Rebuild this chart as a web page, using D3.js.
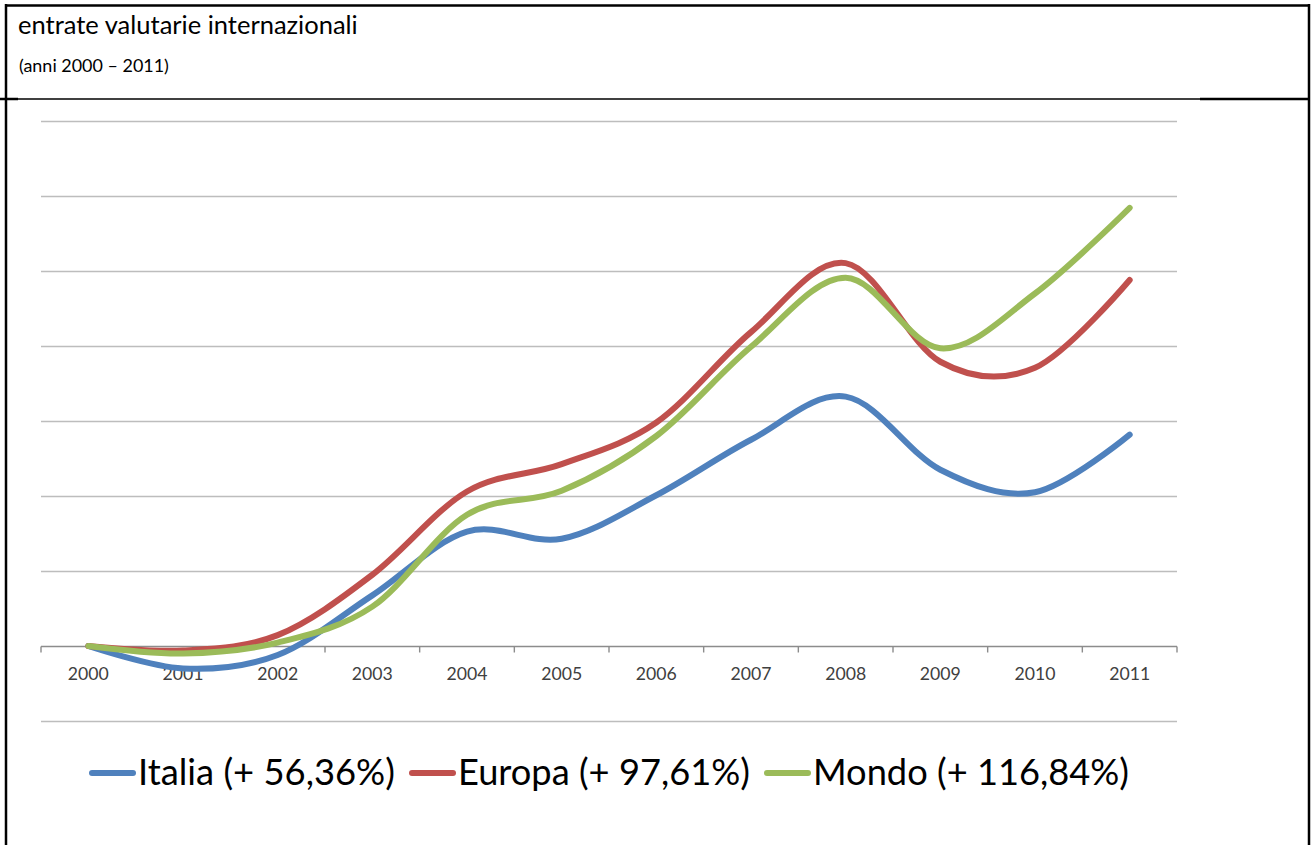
<!DOCTYPE html>
<html>
<head>
<meta charset="utf-8">
<script src="https://cdn.jsdelivr.net/npm/d3@7"></script>
<style>
  html, body { margin: 0; padding: 0; background: #fff; }
  svg { display: block; }
  text { font-family: Lato, "Open Sans", "Liberation Sans", sans-serif; }
</style>
</head>
<body>
<svg id="chart" width="1311" height="845"></svg>
<script>
// ---- data ----
const years = ["2000","2001","2002","2003","2004","2005","2006","2007","2008","2009","2010","2011"];
const italia = [0, -6, -2.4, 13.5, 30.5, 28.6, 40.2, 55, 66.5, 47, 41, 56.36];
const europa = [0, -1.2, 2.9, 19, 41.2, 48.5, 59.6, 83.7, 102.1, 75.8, 74.2, 97.61];
const mondo  = [0, -2.0, 0.9, 10.5, 35, 41.4, 56, 79.8, 98.2, 79.4, 94, 116.84];
const seriesNames = ["Italia (+ 56,36%)", "Europa (+ 97,61%)", "Mondo (+ 116,84%)"];
const seriesColors = ["#4F81BD", "#C0504D", "#9BBB59"];
const yTicks = [-20, 0, 20, 40, 60, 80, 100, 120, 140];
const titleText = "entrate valutarie internazionali";
const subtitleText = "(anni 2000 \u2013 2011)";

const series = [italia, europa, mondo].map((vals, i) => ({
  name: seriesNames[i], color: seriesColors[i],
  values: vals.map((v, j) => ({ year: years[j], value: v }))
}));

// ---- layout ----
const svg = d3.select("#chart");
const plot = { left: 41, right: 1177, top: 121, bottom: 721 };

// text fitting helper: scale font so that text spans a target width
function fitFont(sel, target) {
  sel.style("font-size", "100px");
  const len = sel.node().getComputedTextLength();
  const fs = 100 * target / len;
  sel.style("font-size", fs + "px");
  return fs;
}

// ---- frame ----
const frame = svg.append("g").attr("stroke", "#000").attr("fill", "none");
frame.append("line").attr("x1", 5).attr("x2", 1310).attr("y1", 5.5).attr("y2", 5.5).attr("stroke-width", 2.5);
frame.append("line").attr("x1", 6).attr("x2", 6).attr("y1", 4).attr("y2", 845).attr("stroke-width", 2.5);
frame.append("line").attr("x1", 1309).attr("x2", 1309).attr("y1", 4).attr("y2", 845).attr("stroke-width", 2.5);
frame.append("line").attr("x1", 0).attr("x2", 1200).attr("y1", 99).attr("y2", 99).attr("stroke-width", 1.5);
frame.append("line").attr("x1", 0).attr("x2", 18).attr("y1", 99).attr("y2", 99).attr("stroke-width", 2.5);
frame.append("line").attr("x1", 1200).attr("x2", 1309).attr("y1", 99).attr("y2", 99).attr("stroke-width", 2.5);

// ---- titles ----
const t1 = svg.append("text").attr("x", 18).attr("y", 34).attr("fill", "#000").text(titleText);
fitFont(t1, 340);
const t2 = svg.append("text").attr("x", 19).attr("y", 72).attr("fill", "#000").text(subtitleText);
fitFont(t2, 150);

// ---- scales ----
const x = d3.scaleBand().domain(years).range([plot.left, plot.right]).padding(0);
const y = d3.scaleLinear().domain([-20, 140]).range([plot.bottom, plot.top]);

// ---- gridlines ----
svg.append("g")
  .selectAll("line")
  .data(yTicks.filter(d => d !== 0))
  .join("line")
  .attr("x1", plot.left).attr("x2", plot.right)
  .attr("y1", d => Math.round(y(d)) + 0.5).attr("y2", d => Math.round(y(d)) + 0.5)
  .attr("stroke", "#bdbdbd").attr("stroke-width", 1.6);

// ---- x axis ----
const axisY = Math.round(y(0)) + 0.5;
const xAxis = svg.append("g").attr("transform", `translate(0,${axisY})`);
xAxis.append("line").attr("x1", plot.left).attr("x2", plot.right).attr("stroke", "#8c8c8c").attr("stroke-width", 1.4);
const boundaries = years.map(d => x(d)).concat([x(years[years.length - 1]) + x.bandwidth()]);
xAxis.selectAll("line.tick").data(boundaries).join("line").attr("class", "tick")
  .attr("x1", d => d).attr("x2", d => d).attr("y1", 0).attr("y2", 6)
  .attr("stroke", "#8c8c8c").attr("stroke-width", 1.4);
const labels = xAxis.selectAll("text").data(years).join("text")
  .attr("x", d => x(d) + x.bandwidth() / 2)
  .attr("y", 33)
  .attr("text-anchor", "middle")
  .attr("fill", "#404040")
  .text(d => d);
// size tick labels so "2000" spans ~41px
const probe = svg.append("text").text(years[0]);
const tickFs = fitFont(probe, 41);
probe.remove();
labels.style("font-size", tickFs + "px");

// ---- lines ----
const line = d3.line()
  .x(d => x(d.year) + x.bandwidth() / 2)
  .y(d => y(d.value))
  .curve(d3.curveCardinal.tension(0));

svg.append("g").selectAll("path").data(series).join("path")
  .attr("d", d => line(d.values))
  .attr("fill", "none")
  .attr("stroke", d => d.color)
  .attr("stroke-width", 6)
  .attr("stroke-linecap", "round")
  .attr("stroke-linejoin", "round");

// ---- legend ----
const legendLayout = [
  { lineX: 92, textX: 138, textW: 257 },
  { lineX: 412, textX: 458, textW: 292 },
  { lineX: 767, textX: 813, textW: 316 }
];
const legend = svg.append("g");
const items = legend.selectAll("g").data(series).join("g");
items.append("line")
  .attr("x1", (d, i) => legendLayout[i].lineX)
  .attr("x2", (d, i) => legendLayout[i].lineX + 41)
  .attr("y1", 773).attr("y2", 773)
  .attr("stroke", d => d.color).attr("stroke-width", 6).attr("stroke-linecap", "round");
items.append("text")
  .attr("x", (d, i) => legendLayout[i].textX)
  .attr("y", 785)
  .attr("fill", "#000")
  .text(d => d.name)
  .each(function(d, i) { fitFont(d3.select(this), legendLayout[i].textW); });
</script>
</body>
</html>
